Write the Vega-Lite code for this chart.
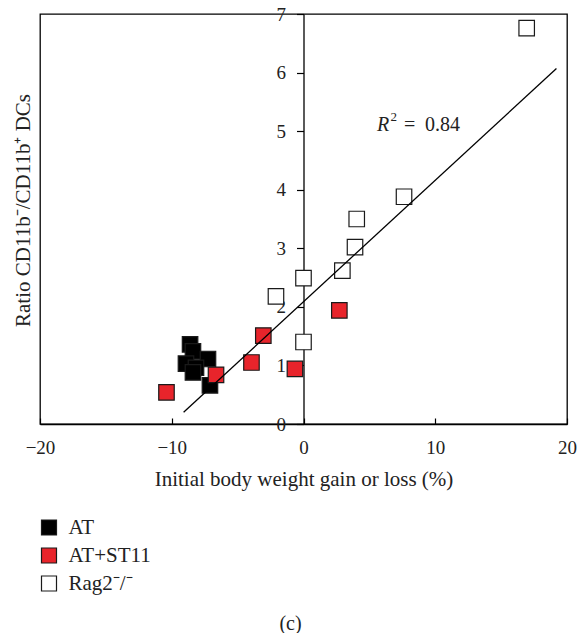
{
  "$schema": "https://vega.github.io/schema/vega-lite/v6.json",
  "width": 527,
  "height": 410,
  "autosize": "none",
  "padding": {"left": 40, "top": 14, "right": 12, "bottom": 209},
  "background": "white",
  "config": {
    "view": {"stroke": "#000", "strokeWidth": 1.3},
    "font": "Liberation Serif"
  },
  "title": {"text": "(c)", "orient": "bottom", "anchor": "middle", "font": "Liberation Serif", "fontSize": 20, "fontWeight": "normal", "color": "#222", "offset": 20, "dx": -13},
  "datasets": {
    "points": [
      {"group": "AT", "x": -8.61, "y": 1.36},
      {"group": "AT", "x": -8.39, "y": 1.24},
      {"group": "AT", "x": -7.25, "y": 1.11},
      {"group": "AT", "x": -8.92, "y": 1.03},
      {"group": "AT", "x": -8.16, "y": 0.96},
      {"group": "AT", "x": -8.39, "y": 0.88},
      {"group": "AT", "x": -7.1, "y": 0.66},
      {"group": "AT+ST11", "x": -10.4, "y": 0.54},
      {"group": "AT+ST11", "x": -6.64, "y": 0.84},
      {"group": "AT+ST11", "x": -3.95, "y": 1.05},
      {"group": "AT+ST11", "x": -3.05, "y": 1.51},
      {"group": "AT+ST11", "x": -0.65, "y": 0.94},
      {"group": "AT+ST11", "x": 2.72, "y": 1.94},
      {"group": "Rag2⁻/⁻", "x": 0.0, "y": 1.4},
      {"group": "Rag2⁻/⁻", "x": -2.09, "y": 2.18},
      {"group": "Rag2⁻/⁻", "x": 0.0, "y": 2.49},
      {"group": "Rag2⁻/⁻", "x": 2.95, "y": 2.62},
      {"group": "Rag2⁻/⁻", "x": 3.91, "y": 3.02},
      {"group": "Rag2⁻/⁻", "x": 4.04, "y": 3.5},
      {"group": "Rag2⁻/⁻", "x": 7.63, "y": 3.88},
      {"group": "Rag2⁻/⁻", "x": 16.94, "y": 6.76}
    ],
    "fit": [
      {"x": -9.1, "y": 0.2},
      {"x": 19.2, "y": 6.07}
    ],
    "note": [
      {"label": "R² = 0.84"}
    ]
  },
  "layer": [
    {
      "data": {"name": "points"},
      "mark": {"type": "point", "shape": "square", "filled": true, "size": 240, "stroke": "#1a1a1a", "strokeWidth": 1.2, "opacity": 1},
      "encoding": {
        "x": {
          "field": "x", "type": "quantitative",
          "scale": {"domain": [-20, 20], "nice": false, "zero": false},
          "axis": {
            "title": "Initial body weight gain or loss (%)",
            "values": [-20, -10, 0, 10, 20],
            "format": "d",
            "grid": false,
            "tickSize": -6, "tickColor": "#000", "tickWidth": 1.2,
            "domainColor": "#000", "domainWidth": 1.3,
            "labelPadding": 20, "labelFlush": false, "labelOverlap": false,
            "labelFont": "Liberation Serif", "labelFontSize": 19, "labelColor": "#222",
            "titleFont": "Liberation Serif", "titleFontSize": 21, "titleFontWeight": "normal", "titleColor": "#222",
            "titleY": 61, "titleBaseline": "alphabetic"
          }
        },
        "y": {
          "field": "y", "type": "quantitative",
          "scale": {"domain": [0, 7], "nice": false},
          "axis": {
            "title": "Ratio CD11b⁻/CD11b⁺ DCs",
            "values": [0, 1, 2, 3, 4, 5, 6, 7],
            "format": "d",
            "grid": false,
            "offset": -263.5,
            "tickSize": 7, "tickColor": "#000", "tickWidth": 1.2,
            "domainColor": "#000", "domainWidth": 1.3,
            "labelPadding": 11, "labelFlush": false, "labelOverlap": false,
            "labelFont": "Liberation Serif", "labelFontSize": 19, "labelColor": "#222",
            "titleFont": "Liberation Serif", "titleFontSize": 21, "titleFontWeight": "normal", "titleColor": "#222",
            "titleAngle": -90, "titleX": -280, "titleY": 196, "titleAlign": "center", "titleBaseline": "middle"
          }
        },
        "color": {
          "field": "group", "type": "nominal",
          "scale": {"domain": ["AT", "AT+ST11", "Rag2⁻/⁻"], "range": ["#000000", "#e8242b", "#ffffff"]},
          "legend": {
            "title": null, "orient": "none", "legendX": -1.5, "legendY": 503,
            "symbolType": "square", "symbolSize": 225, "symbolStrokeColor": "#1a1a1a", "symbolStrokeWidth": 1.2, "symbolOpacity": 1,
            "labelFont": "Liberation Serif", "labelFontSize": 21, "labelColor": "#222",
            "labelOffset": 9, "rowPadding": 6, "padding": 0
          }
        }
      }
    },
    {
      "data": {"name": "fit"},
      "mark": {"type": "line", "color": "#000", "strokeWidth": 1.3},
      "encoding": {
        "x": {"field": "x", "type": "quantitative"},
        "y": {"field": "y", "type": "quantitative"}
      }
    },
    {
      "data": {"name": "note"},
      "mark": {"type": "text", "text": "R", "font": "Liberation Serif", "fontStyle": "italic", "fontSize": 20, "align": "left", "baseline": "alphabetic", "color": "#222"},
      "encoding": {"x": {"datum": 5.58}, "y": {"datum": 5.0}}
    },
    {
      "data": {"name": "note"},
      "mark": {"type": "text", "text": "2", "font": "Liberation Serif", "fontSize": 13, "align": "left", "baseline": "alphabetic", "color": "#222", "dx": 13.5, "dy": -10},
      "encoding": {"x": {"datum": 5.58}, "y": {"datum": 5.0}}
    },
    {
      "data": {"name": "note"},
      "mark": {"type": "text", "text": "=", "font": "Liberation Serif", "fontSize": 20, "align": "left", "baseline": "alphabetic", "color": "#222", "dx": 27},
      "encoding": {"x": {"datum": 5.58}, "y": {"datum": 5.0}}
    },
    {
      "data": {"name": "note"},
      "mark": {"type": "text", "text": "0.84", "font": "Liberation Serif", "fontSize": 20, "align": "left", "baseline": "alphabetic", "color": "#222", "dx": 48},
      "encoding": {"x": {"datum": 5.58}, "y": {"datum": 5.0}}
    }
  ]
}
